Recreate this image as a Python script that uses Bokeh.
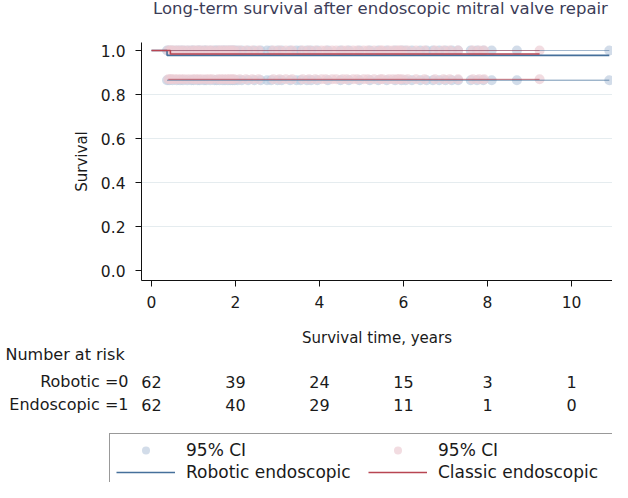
from bokeh.plotting import figure
from bokeh.models import (Range1d, FixedTicker, NumeralTickFormatter, Legend, LegendItem,
                          Label, LabelSet, ColumnDataSource)
from bokeh.core.properties import value
from bokeh.embed import file_html
from bokeh.resources import INLINE

# ---------------- data ----------------
x_ticks = [0, 2, 4, 6, 8, 10]
y_ticks = [0.0, 0.2, 0.4, 0.6, 0.8, 1.0]
grid_ticks = [0.2, 0.4, 0.6, 0.8]

robotic_step_time = [0.0, 0.37, 10.9]
robotic_surv = [1.0, 0.978, 0.978]
classic_step_time = [0.0, 0.45, 9.24]
classic_surv = [1.0, 0.984, 0.984]

robotic_ci_upper = 1.0
robotic_ci_lower = 0.865
classic_ci_upper = 1.0
classic_ci_lower = 0.869

robotic_times = [0.37, 0.42, 0.5, 0.6, 0.68, 0.75, 0.85, 0.95, 1.0, 1.1, 1.15, 1.25, 1.3, 1.4,
                 1.5, 1.55, 1.62, 1.7, 1.75, 1.82, 1.88, 1.93, 1.98,
                 2.05, 2.15, 2.3, 2.45, 2.6, 2.75, 2.85, 3.0, 3.1, 3.3, 3.45, 3.55, 3.7, 3.8, 3.95,
                 4.2, 4.5, 4.7, 4.95, 5.2, 5.4, 5.6, 5.8, 5.95,
                 6.05, 6.2, 6.4, 6.55, 6.7, 6.85, 7.0, 7.15, 7.3, 7.6, 7.75, 7.9,
                 8.1, 8.7, 10.9]
classic_times = [0.4, 0.45, 0.48, 0.55, 0.62, 0.7, 0.78, 0.88, 0.98, 1.05, 1.12, 1.2, 1.3, 1.38,
                 1.45, 1.58, 1.65, 1.72, 1.8, 1.86, 1.92, 1.97,
                 2.1, 2.25, 2.4, 2.55, 2.9, 3.05, 3.2, 3.35, 3.6, 3.75, 3.9,
                 4.05, 4.15, 4.3, 4.4, 4.55, 4.65, 4.8, 4.9, 5.05, 5.15, 5.3, 5.45, 5.5, 5.65,
                 5.75, 5.85, 5.9, 5.97,
                 6.1, 6.3, 6.5, 6.75, 6.95, 7.1, 7.3, 7.65, 7.8, 7.92,
                 9.24]

risk_times = [0, 2, 4, 6, 8, 10]
risk_robotic = [62, 39, 24, 15, 3, 1]
risk_classic = [62, 40, 29, 11, 1, 0]

title_text = "Long-term survival after endoscopic mitral valve repair"
x_label = "Survival time, years"
y_label = "Survival"
table_title = "Number at risk"
row_labels = ["Robotic =0", "Endoscopic =1"]
legend_labels = ["95% CI", "Robotic endoscopic", "95% CI", "Classic endoscopic"]

# ---------------- style / layout (page pixels of the reference) ----------------
FONT = "DejaVu Sans"
TXT = "#1a1a1a"
BLUE = "#46709b"
RED = "#b84552"
CI_BLUE = "#bfcde0"
CI_RED = "#eccdd4"
W, H = 612, 482
PAGE_L, PAGE_T = 8, 8                 # where the figure sits on the page
PAGE_R, PAGE_B = PAGE_L + W, PAGE_T + H
PX_X0, PX_PER_YEAR = 159, 42.0        # x = 0 pixel, pixels per year
PX_Y0, PX_PER_UNIT = 278, 220.0       # survival 0 pixel, pixels per unit
AXIS_X_PX, AXIS_Y_PX, AXIS_TOP_PX = 149, 288, 50

X0 = (PAGE_L - PX_X0) / PX_PER_YEAR
X1 = (PAGE_R - PX_X0) / PX_PER_YEAR
Y0 = (PX_Y0 - PAGE_B) / PX_PER_UNIT
Y1 = (PX_Y0 - PAGE_T) / PX_PER_UNIT
AX_X = (AXIS_X_PX - PX_X0) / PX_PER_YEAR
AX_Y = (PX_Y0 - AXIS_Y_PX) / PX_PER_UNIT
AX_TOP = (PX_Y0 - AXIS_TOP_PX) / PX_PER_UNIT

p = figure(width=W, height=H, output_backend="svg", toolbar_location=None,
           x_range=Range1d(X0, X1), y_range=Range1d(Y0, Y1),
           min_border_left=0, min_border_right=0, min_border_top=0, min_border_bottom=0)
p.outline_line_color = None
p.background_fill_color = "white"
p.border_fill_color = "white"
p.grid.visible = False

p.xaxis.ticker = FixedTicker(ticks=x_ticks)
p.yaxis.ticker = FixedTicker(ticks=y_ticks)
p.yaxis.formatter = NumeralTickFormatter(format="0.0")
p.xaxis.fixed_location = AX_Y
p.yaxis.fixed_location = AX_X
p.xaxis.bounds = (AX_X, X1)
p.yaxis.bounds = (AX_Y, AX_TOP)
for ax in (p.xaxis, p.yaxis):
    ax.axis_line_color = "#111111"
    ax.major_tick_line_color = "#111111"
    ax.major_tick_out = 6
    ax.major_tick_in = 0
    ax.minor_tick_line_color = None
    ax.major_label_text_font = FONT
    ax.major_label_text_font_size = "15.5px"
    ax.major_label_text_color = TXT
    ax.axis_label_text_font = FONT
    ax.axis_label_text_font_size = "15px"
    ax.axis_label_text_font_style = "normal"
    ax.axis_label_text_color = TXT
p.xaxis.axis_label = x_label
p.yaxis.axis_label = y_label
p.xaxis.major_label_standoff = 9
p.yaxis.major_label_standoff = 10
p.xaxis.axis_label_standoff = 18
p.yaxis.axis_label_standoff = 7

# horizontal grid lines
p.segment(x0=[AX_X] * len(grid_ticks), y0=grid_ticks, x1=[X1] * len(grid_ticks), y1=grid_ticks,
          line_color="#e5ecef", line_width=1)

# CI markers (upper and lower bound at every observed time)
r_ci_b = p.scatter(x=robotic_times + robotic_times,
                   y=[robotic_ci_lower] * len(robotic_times) + [robotic_ci_upper] * len(robotic_times),
                   size=10, fill_color=CI_BLUE, fill_alpha=0.7, line_color=None)
r_ci_r = p.scatter(x=classic_times + classic_times,
                   y=[classic_ci_lower] * len(classic_times) + [classic_ci_upper] * len(classic_times),
                   size=10, fill_color=CI_RED, fill_alpha=0.7, line_color=None)

# CI bound lines
for times, lo, hi, col in ((robotic_times, robotic_ci_lower, robotic_ci_upper, BLUE),
                           (classic_times, classic_ci_lower, classic_ci_upper, RED)):
    p.line(x=[times[0], times[-1]], y=[lo, lo], line_color=col, line_width=1, line_alpha=0.75)
    p.line(x=[times[0], times[-1]], y=[hi, hi], line_color=col, line_width=1, line_alpha=0.5)

# survival step lines
r_ln_b = p.step(x=robotic_step_time, y=robotic_surv, mode="after", line_color=BLUE, line_width=1.6)
r_ln_r = p.step(x=classic_step_time, y=classic_surv, mode="after", line_color=RED, line_width=1.6)

# ---------------- title ----------------
p.add_layout(Label(x=388 - PAGE_L, y=PAGE_B - 16, x_units="screen", y_units="screen",
                   text=title_text, text_align="center", text_baseline="middle",
                   text_font=FONT, text_font_size="16.5px", text_color="#3c3d58"))

# ---------------- number at risk table ----------------
lab_style = dict(text_font_size="16px", text_color=TXT, text_baseline="middle")
p.add_layout(Label(x=13 - PAGE_L, y=PAGE_B - 362, x_units="screen", y_units="screen",
                   text=table_title, text_align="left", text_font=FONT, **lab_style))
for lab, ypix, counts in ((row_labels[0], 389, risk_robotic), (row_labels[1], 412, risk_classic)):
    p.add_layout(Label(x=0, y=PAGE_B - ypix, x_units="data", y_units="screen",
                       x_offset=-23, text=lab, text_align="right", text_font=FONT, **lab_style))
    src = ColumnDataSource(dict(x=risk_times, y=[PAGE_B - ypix] * len(risk_times),
                                t=[str(c) for c in counts]))
    p.add_layout(LabelSet(x="x", y="y", text="t", source=src, x_units="data", y_units="screen",
                          text_align="center", text_font=value(FONT), **lab_style))

# ---------------- legend ----------------
leg = Legend(items=[LegendItem(label=legend_labels[0], renderers=[r_ci_b]),
                    LegendItem(label=legend_labels[1], renderers=[r_ln_b]),
                    LegendItem(label=legend_labels[2], renderers=[r_ci_r]),
                    LegendItem(label=legend_labels[3], renderers=[r_ln_r])],
             ncols=2, orientation="vertical", location=(117 - PAGE_L, PAGE_B - 497))
leg.glyph_width = 59
leg.glyph_height = 20
leg.label_height = 20
leg.label_width = 180
leg.label_standoff = 11
leg.spacing = 2
leg.padding = 6
leg.margin = 0
leg.border_line_color = "#333333"
leg.border_line_width = 1
leg.background_fill_color = "white"
leg.background_fill_alpha = 1
leg.label_text_font = FONT
leg.label_text_font_size = "17px"
leg.label_text_color = TXT
p.add_layout(leg, "center")

open("out.html", "w").write(file_html(p, INLINE))
